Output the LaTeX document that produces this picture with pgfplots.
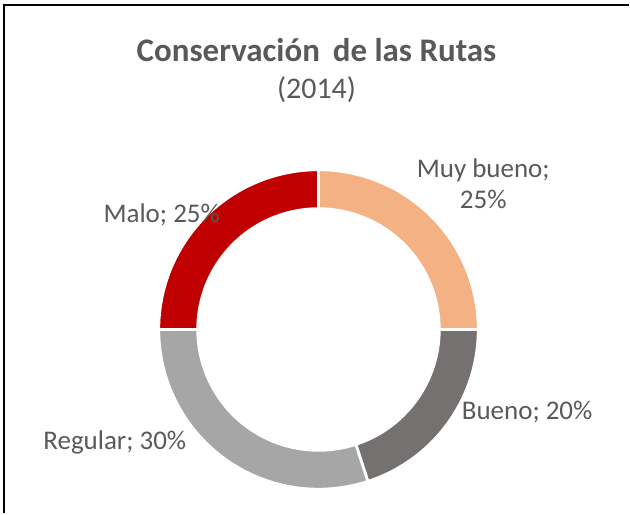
\documentclass[border=0pt]{standalone}
\usepackage{pgfplots}
\usepackage{pgfplotstable}
\pgfplotsset{compat=1.18}
\usepackage{fontspec}
\setmainfont{Carlito}
\definecolor{txt}{HTML}{595959}
\definecolor{cMB}{HTML}{F4B183}
\definecolor{cB}{HTML}{767171}
\definecolor{cR}{HTML}{A6A6A6}
\definecolor{cM}{HTML}{C00000}
\pgfplotstableread{
idx value color
0 25 cMB
1 20 cB
2 30 cR
3 25 cM
}\donutdata
\begin{document}
\begin{tikzpicture}
\begin{axis}[
  x=0.5pt, y=0.5pt,
  xmin=0, xmax=630, ymin=0, ymax=514,
  scale only axis, hide axis, clip=false,
]
\path (axis cs:0,0) -- (axis cs:630,514);
\draw[black, line width=1pt] (axis cs:4,0) -- (axis cs:4,509) -- (axis cs:630,509);
\coordinate (c) at (axis cs:319,184);
\pgfplotstablegetrowsof{\donutdata}
\pgfmathtruncatemacro\N{\pgfplotsretval-1}
\def\cum{0}
\pgfplotsforeachungrouped \i in {0,...,\N}{%
  \pgfplotstablegetelem{\i}{value}\of\donutdata \let\v\pgfplotsretval
  \pgfplotstablegetelem{\i}{color}\of\donutdata \let\col\pgfplotsretval
  \pgfmathsetmacro\aone{90-3.6*\cum}%
  \pgfmathsetmacro\atwo{90-3.6*(\cum+\v)}%
  \pgfmathsetmacro\cum{\cum+\v}%
  \edef\temp{\noexpand\fill[\col, draw=white, line width=1.4pt] ([shift={(\aone:80pt)}]c) arc[start angle=\aone, end angle=\atwo, radius=80pt] -- ([shift={(\atwo:60.5pt)}]c) arc[start angle=\atwo, end angle=\aone, radius=60.5pt] -- cycle;}%
  \temp
}
\node[txt, font=\fontsize{16.5pt}{19pt}\selectfont\bfseries] at (axis cs:317,464) {Conservación\, de las Rutas};
\node[txt, font=\fontsize{15pt}{18pt}\selectfont] at (axis cs:317,424) {(2014)};
\node[txt, font=\fontsize{13.5pt}{15.5pt}\selectfont, align=center] at (axis cs:484,330) {Muy bueno;\\25\%};
\node[txt, font=\fontsize{13.5pt}{15.5pt}\selectfont] at (axis cs:162,299) {Malo; 25\%};
\node[txt, font=\fontsize{13.5pt}{15.5pt}\selectfont] at (axis cs:528,101) {Bueno; 20\%};
\node[txt, font=\fontsize{13.5pt}{15.5pt}\selectfont] at (axis cs:115,71) {Regular; 30\%};
\end{axis}
\end{tikzpicture}
\end{document}
